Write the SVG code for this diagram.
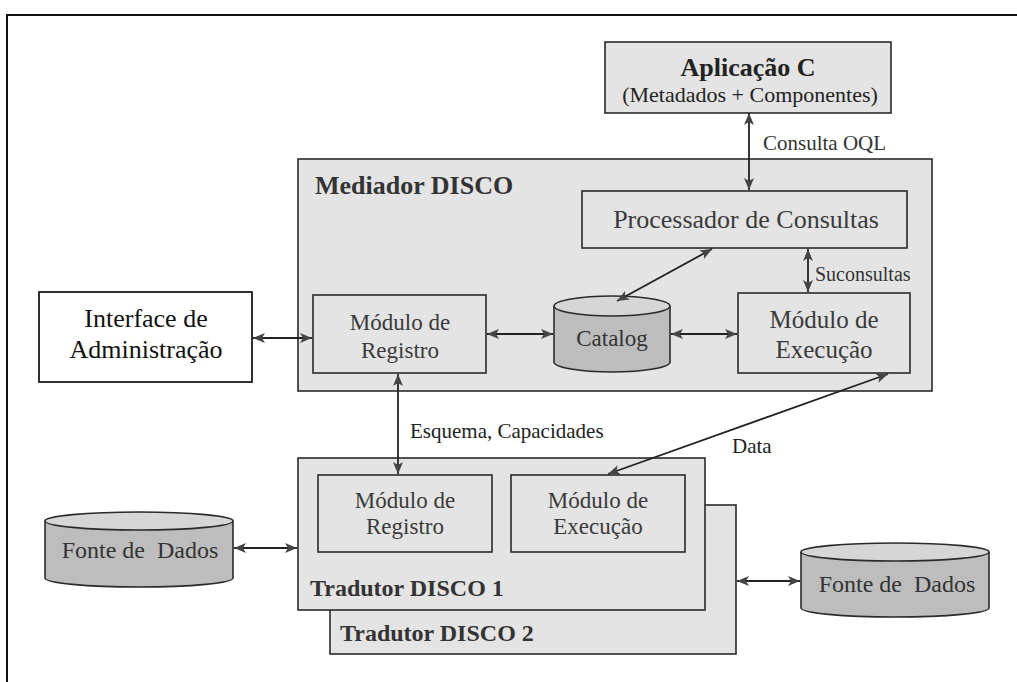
<svg xmlns="http://www.w3.org/2000/svg" width="1017" height="682" viewBox="0 0 1017 682" font-family="'Liberation Serif', 'DejaVu Serif', serif">
<defs>
<marker id="ah" viewBox="0 0 12 10" refX="12" refY="5" markerWidth="12" markerHeight="10" markerUnits="userSpaceOnUse" orient="auto-start-reverse">
<path d="M0,0 L12,5 L0,10 L3,5 z" fill="#444"/>
</marker>
</defs>
<style>
text{font-family:'Liberation Serif','Times New Roman',serif;fill:#2a2a2a}
.box{fill:#e4e4e4;stroke:#2a2a2a;stroke-width:1.6}
.wbox{fill:#ffffff;stroke:#1a1a1a;stroke-width:1.8}
.cylb{fill:#bdbdbd;stroke:#2a2a2a;stroke-width:1.6}
.cylt{fill:#d6d6d6;stroke:#2a2a2a;stroke-width:1.6}
.c{stroke:#222;stroke-width:1.8;fill:none;marker-start:url(#ah);marker-end:url(#ah)}
.t{font-size:22px;text-anchor:middle;fill:#3a3a3a}
.tt{font-size:23px;text-anchor:middle;fill:#3a3a3a}
.b{font-weight:bold;font-size:24px;fill:#333}
.l{font-size:21px;fill:#222}
.f{font-size:24px;text-anchor:middle;fill:#333;white-space:pre}
</style>
<rect width="1017" height="682" fill="#fff"/>
<path d="M7,682 L7,15 L1017,15" fill="none" stroke="#111" stroke-width="2"/>

<g id="aplicacao">
<rect class="box" x="605" y="42" width="286" height="71"/>
<text x="748" y="76" text-anchor="middle" style="font-size:26px;font-weight:bold;fill:#222">Aplicação C</text>
<text x="750" y="102" text-anchor="middle" style="font-size:22px;fill:#222">(Metadados + Componentes)</text>
</g>

<g id="tradutor2">
<rect class="box" x="330" y="505" width="406" height="149"/>
<text class="b" x="340" y="641">Tradutor DISCO 2</text>
</g>

<g id="tradutor1">
<rect class="box" x="298" y="458" width="407" height="152"/>
<text class="b" x="310" y="596">Tradutor DISCO 1</text>
</g>

<g id="t-registro">
<rect class="box" x="318" y="475" width="174" height="77"/>
<text class="tt" x="405" y="508">Módulo de</text>
<text class="tt" x="405" y="534">Registro</text>
</g>

<g id="t-execucao">
<rect class="box" x="511" y="475" width="174" height="77"/>
<text class="tt" x="598" y="508">Módulo de</text>
<text class="tt" x="598" y="534">Execução</text>
</g>

<g id="mediador">
<rect class="box" x="298" y="159" width="634" height="232"/>
<text class="b" x="315" y="194" style="font-size:26px">Mediador DISCO</text>
</g>

<g id="processador">
<rect class="box" x="582" y="191" width="325" height="57"/>
<text class="t" x="746" y="228" style="font-size:26px">Processador de Consultas</text>
</g>

<g id="m-registro">
<rect class="box" x="313" y="295" width="173" height="78"/>
<text class="tt" x="400" y="330">Módulo de</text>
<text class="tt" x="400" y="358">Registro</text>
</g>

<g id="catalog">
<path class="cylb" d="M554,306 L554,362 A58,10 0 0 0 670,362 L670,306"/>
<ellipse class="cylt" cx="612" cy="306" rx="58" ry="10"/>
<text class="t" x="612" y="346" style="fill:#333;font-size:23px">Catalog</text>
</g>

<g id="m-execucao">
<rect class="box" x="738" y="293" width="172" height="80"/>
<text class="t" x="824" y="328" style="font-size:25px">Módulo de</text>
<text class="t" x="824" y="358" style="font-size:25px">Execução</text>
</g>

<g id="interface">
<rect class="wbox" x="39" y="292" width="213" height="90"/>
<text x="146" y="327" text-anchor="middle" style="font-size:26px;fill:#111">Interface de</text>
<text x="146" y="358" text-anchor="middle" style="font-size:26px;fill:#111">Administração</text>
</g>

<g id="fonte-left">
<path class="cylb" d="M45,521 L45,578 A94,9 0 0 0 233,578 L233,521"/>
<ellipse class="cylt" cx="139" cy="521" rx="94" ry="9"/>
<text class="f" x="140" y="558" xml:space="preserve">Fonte de  Dados</text>
</g>

<g id="fonte-right">
<path class="cylb" d="M801,552 L801,608 A94,9 0 0 0 989,608 L989,552"/>
<ellipse class="cylt" cx="895" cy="552" rx="94" ry="9"/>
<text class="f" x="897" y="592" xml:space="preserve">Fonte de  Dados</text>
</g>

<g id="connectors">
<line class="c" x1="749" y1="113" x2="749" y2="190"/>
<line class="c" x1="808" y1="249" x2="808" y2="292"/>
<line class="c" x1="712" y1="249" x2="617" y2="301"/>
<line class="c" x1="487" y1="334" x2="553" y2="334"/>
<line class="c" x1="671" y1="334" x2="737" y2="334"/>
<line class="c" x1="253" y1="338" x2="312" y2="338"/>
<line class="c" x1="398" y1="374" x2="398" y2="474"/>
<line class="c" x1="888" y1="374" x2="608" y2="474"/>
<line class="c" x1="234" y1="548" x2="297" y2="548"/>
<line class="c" x1="737" y1="581" x2="800" y2="581"/>
<text x="763" y="150" style="font-size:21px;fill:#333">Consulta OQL</text>
<text x="815" y="281" style="font-size:20px;fill:#333">Suconsultas</text>
<text class="l" x="410" y="438">Esquema, Capacidades</text>
<text class="l" x="732" y="453">Data</text>
</g>
</svg>
